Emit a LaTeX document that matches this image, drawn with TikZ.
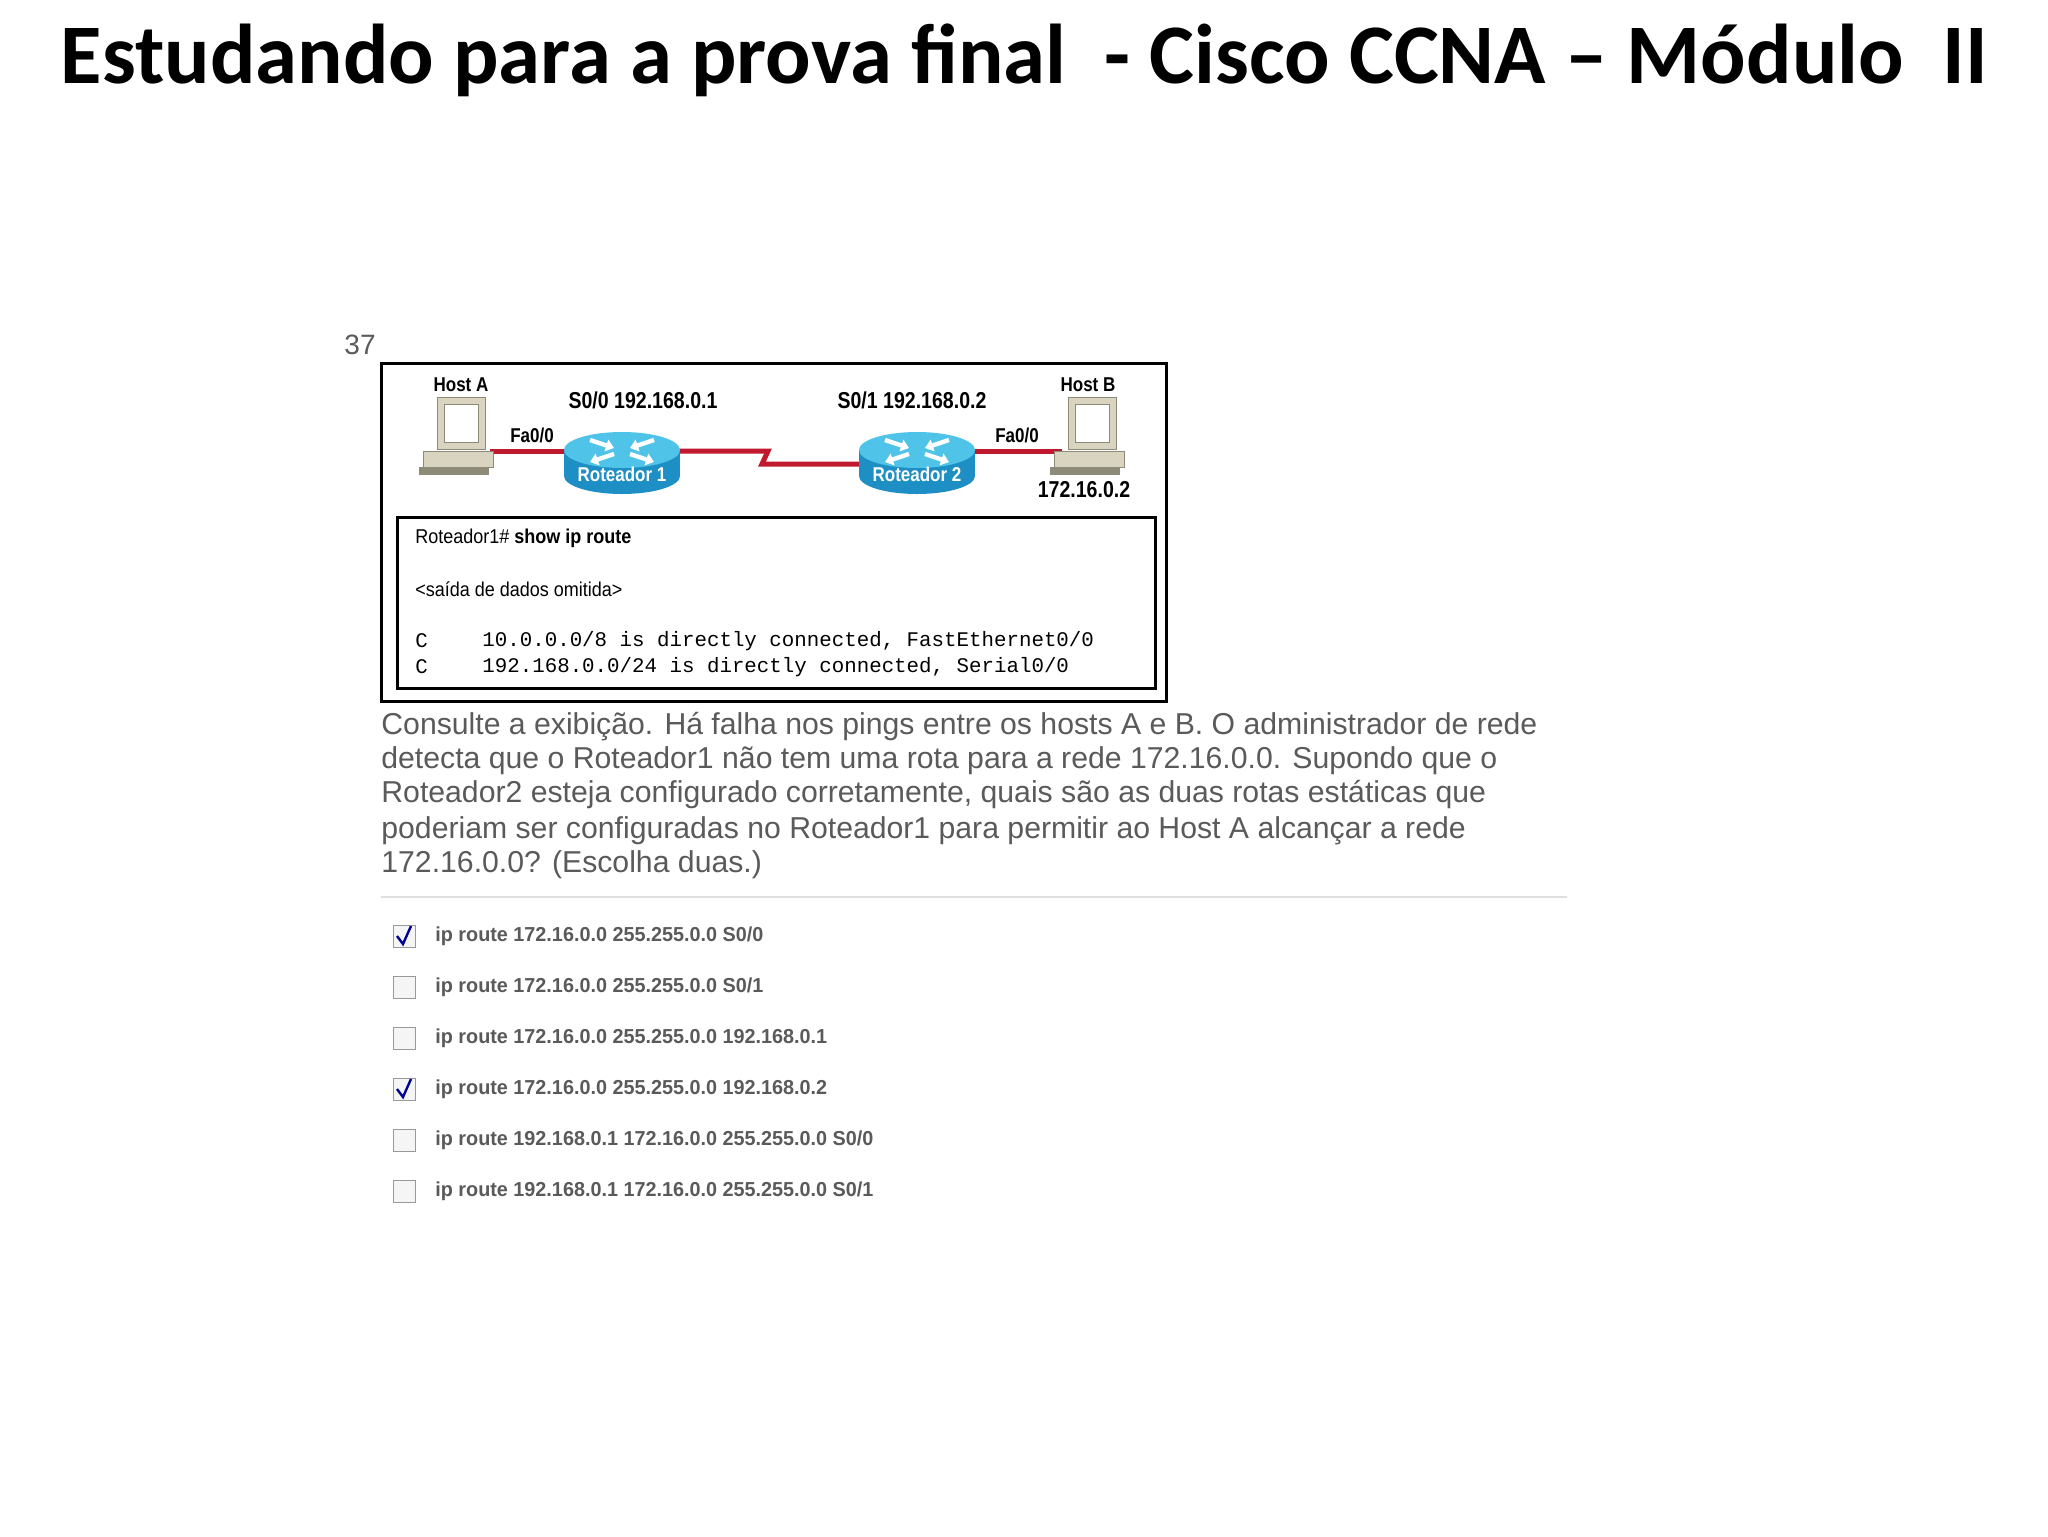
\documentclass[tikz,border=0pt]{standalone}
\usepackage{fontspec}
\setmainfont{Liberation Sans}
\newfontfamily\titlefont{Carlito}
\newfontfamily\monofont{Liberation Mono}
\usetikzlibrary{arrows.meta}
\definecolor{txtgray}{HTML}{5A5A5A}
\definecolor{beige}{HTML}{D8D4C0}
\definecolor{beigedark}{HTML}{8E8A78}
\definecolor{rtop}{HTML}{4FC3E8}
\definecolor{rside}{HTML}{1E8FC4}
\definecolor{linkred}{HTML}{C0182E}
\tikzset{
  lbl/.style={font=\fontsize{10}{12}\selectfont\bfseries, inner sep=0pt, xscale=.85},
  para/.style={font=\fontsize{15.1}{17}\selectfont, text=txtgray, anchor=west, inner sep=0pt},
  opt/.style={font=\fontsize{10.1}{11}\selectfont\bfseries, text=txtgray, anchor=west, inner sep=0pt, xscale=.98},
  cbox/.style={draw=gray!80, fill=gray!8, minimum size=11pt, inner sep=0pt},
  mono/.style={font=\monofont\fontsize{10.4}{12}\selectfont, anchor=west, inner sep=0pt},
  link/.style={linkred, line width=2.5pt},
}
\newcommand{\mycomputer}[2]{%
  \fill[beige,draw=beigedark] (#1-24,#2-44) rectangle (#1+24,#2+8);
  \fill[white,draw=beigedark] (#1-17,#2-37) rectangle (#1+17,#2+1);
  \fill[beige,draw=beigedark] (#1-38,#2+10) rectangle (#1+32,#2+26);
  \fill[beigedark] (#1-42,#2+26) rectangle (#1+28,#2+34);
}
\newcommand{\myrouter}[3]{%
  \fill[rside] (#1-58,#2-10) rectangle (#1+58,#2+16);
  \fill[rside] (#1,#2+16) ellipse (58 and 18);
  \fill[rtop] (#1,#2-10) ellipse (58 and 18);
  \draw[white,line width=2.2pt,-{Triangle[length=4pt,width=6pt]}] (#1-32,#2-20)--(#1-8,#2-12);
  \draw[white,line width=2.2pt,-{Triangle[length=4pt,width=6pt]}] (#1+32,#2-20)--(#1+8,#2-12);
  \draw[white,line width=2.2pt,-{Triangle[length=4pt,width=6pt]}] (#1-8,#2-6)--(#1-32,#2+2);
  \draw[white,line width=2.2pt,-{Triangle[length=4pt,width=6pt]}] (#1+8,#2-6)--(#1+32,#2+2);
  \node[text=white,font=\fontsize{10}{10}\selectfont\bfseries, xscale=.85, inner sep=0pt] at (#1,#2+14) {#3};
}
\begin{document}
\begin{tikzpicture}[x=0.5pt,y=-0.5pt]
\useasboundingbox (0,0) rectangle (2048,1536);
\fill[white] (0,0) rectangle (2048,1536);
\node[font=\titlefont\bfseries\fontsize{42.4}{46}\selectfont, inner sep=0pt] (title) at (1024,60) {Estudando para a prova final\ \ - Cisco CCNA – Módulo\ \ II};
\node[font=\fontsize{14}{16}\selectfont, text=txtgray, inner sep=0pt] (num) at (360,345) {37};
\node[draw, line width=1.5pt, minimum width=392.5pt, minimum height=169pt, inner sep=0pt] (outer) at (773.5,532) {};
\node[draw, line width=1.5pt, minimum width=379pt, minimum height=85.5pt, inner sep=0pt] (inner) at (776,602.5) {};
% links
\coordinate (ha) at (490,451);
\coordinate (hb) at (1062,451);
\coordinate (z1) at (768,451);
\coordinate (z2) at (762,464);
\draw[link] (ha) -- (600,451);
\draw[link] (640,451) -- (z1) -- (z2) -- (880,464);
\draw[link] (960,451) -- (hb);
\mycomputer{461}{441}
\mycomputer{1092}{441}
\myrouter{622}{460}{Roteador 1}
\myrouter{917}{460}{Roteador 2}
\node[lbl] (hostA) at (461,385) {Host A};
\node[lbl] (hostB) at (1088,385) {Host B};
\node[lbl, font=\fontsize{11.5}{12}\selectfont\bfseries] (s00) at (643,400) {S0/0 192.168.0.1};
\node[lbl, font=\fontsize{11.5}{12}\selectfont\bfseries] (s01) at (912,400) {S0/1 192.168.0.2};
\node[lbl] (faL) at (532,435) {Fa0/0};
\node[lbl] (faR) at (1017,435) {Fa0/0};
\node[lbl, font=\fontsize{11.5}{12}\selectfont\bfseries] (ipB) at (1084,490) {172.16.0.2};
\node[anchor=west, inner sep=0pt, font=\fontsize{10}{12}\selectfont, xscale=.9] (cmd) at (415,538) {Roteador1\# \textbf{show ip route}};
\node[anchor=west, inner sep=0pt, font=\fontsize{10}{12}\selectfont, xscale=.9] (omit) at (415,589) {<saída de dados omitida>};
\node[mono] (c1) at (415,641) {C};
\node[mono] (r1) at (482,641) {10.0.0.0/8 is directly connected, FastEthernet0/0};
\node[mono] (c2) at (415,667) {C};
\node[mono] (r2) at (482,667) {192.168.0.0/24 is directly connected, Serial0/0};
\node[para] (p1) at (381,727) {Consulte a exibição. Há falha nos pings entre os hosts A e B. O administrador de rede};
\node[para] (p2) at (381,761) {detecta que o Roteador1 não tem uma rota para a rede 172.16.0.0. Supondo que o};
\node[para] (p3) at (381,795) {Roteador2 esteja configurado corretamente, quais são as duas rotas estáticas que};
\node[para] (p4) at (381,831) {poderiam ser configuradas no Roteador1 para permitir ao Host A alcançar a rede};
\node[para] (p5) at (381,865) {172.16.0.0? (Escolha duas.)};
\draw[gray!25, line width=1pt] (381,897) -- (1567,897);
\foreach \y/\t/\c in {936/{ip route 172.16.0.0 255.255.0.0 S0/0}/1,
                      987/{ip route 172.16.0.0 255.255.0.0 S0/1}/0,
                      1038/{ip route 172.16.0.0 255.255.0.0 192.168.0.1}/0,
                      1089/{ip route 172.16.0.0 255.255.0.0 192.168.0.2}/1,
                      1140/{ip route 192.168.0.1 172.16.0.0 255.255.0.0 S0/0}/0,
                      1191/{ip route 192.168.0.1 172.16.0.0 255.255.0.0 S0/1}/0}{
  \node[cbox] (cb\y) at (404,\y) {};
  \ifnum\c=1 \draw[blue!60!black, line width=1.2pt] (397,\y) -- (403,\y+8) -- (411,\y-10);\fi
  \node[opt] (o\y) at (435,\y) {\t};
}
\end{tikzpicture}
\end{document}
